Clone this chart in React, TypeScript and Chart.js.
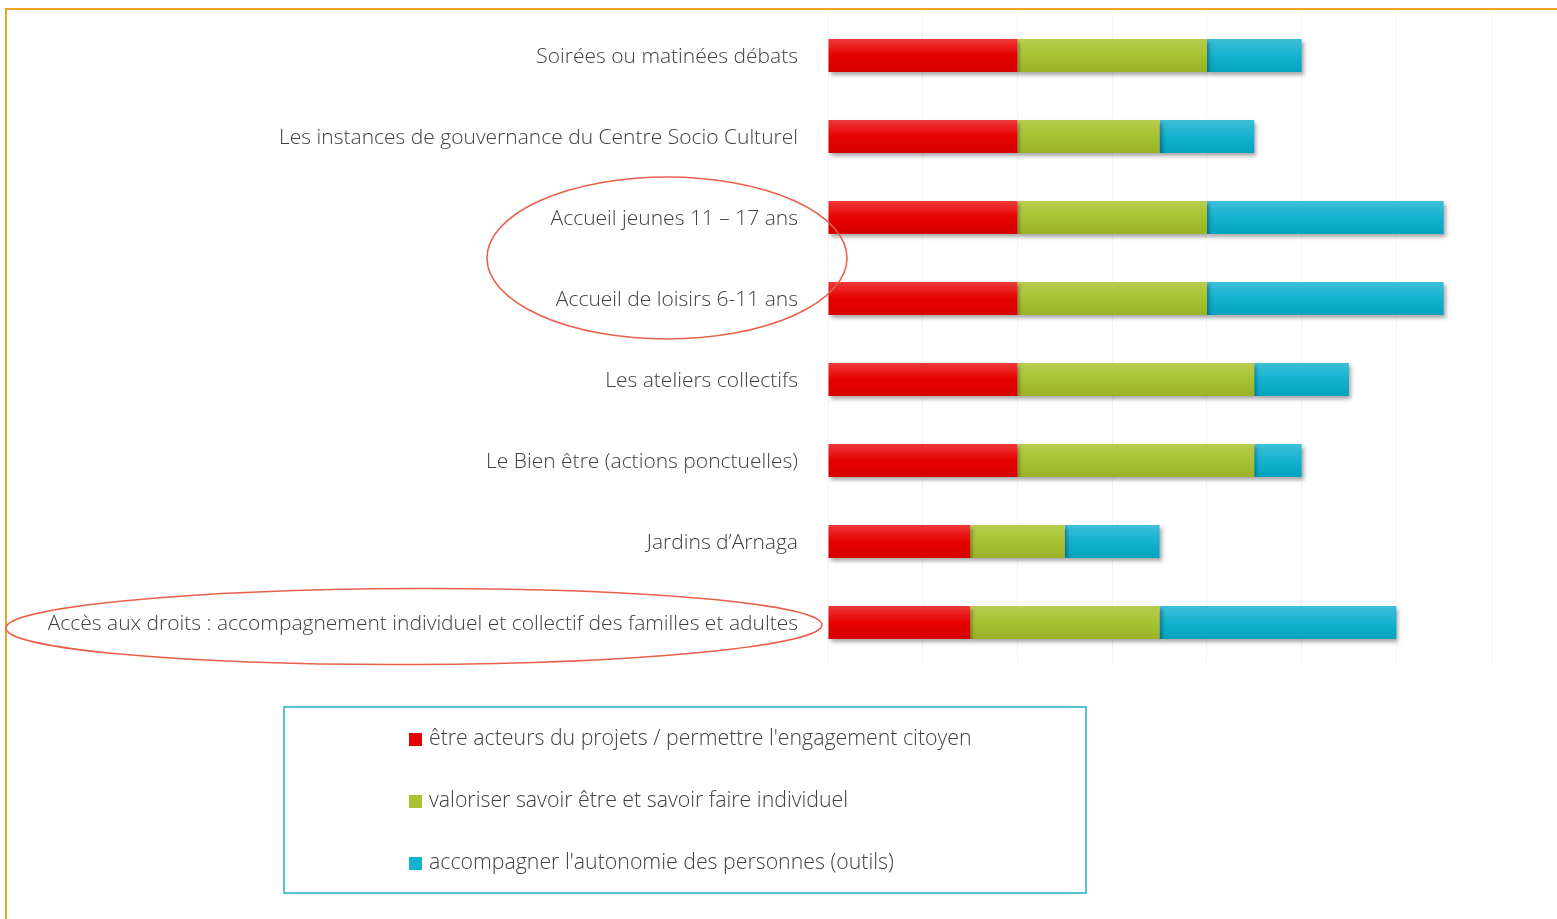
import React, { useEffect, useRef } from "react";
import { Chart, registerables } from "chart.js";

Chart.register(...registerables);

const categories = [
  "Soirées ou matinées débats",
  "Les instances de gouvernance du Centre Socio Culturel",
  "Accueil jeunes 11 – 17 ans",
  "Accueil de loisirs 6-11 ans",
  "Les ateliers collectifs",
  "Le Bien être (actions ponctuelles)",
  "Jardins d’Arnaga",
  "Accès aux droits : accompagnement individuel et collectif des familles et adultes",
];

const seriesNames = [
  "être acteurs du projets / permettre l'engagement citoyen",
  "valoriser savoir être et savoir faire individuel",
  "accompagner l'autonomie des personnes (outils)",
];

const acteurs = [4, 4, 4, 4, 4, 4, 3, 3];
const valoriser = [4, 3, 4, 4, 5, 5, 2, 4];
const autonomie = [2, 2, 5, 5, 2, 1, 2, 5];

const baseColors = ["#e60000", "#a8c232", "#12b2d0"];
const gradStops = [
  ["#ee3a3a", "#e60000", "#d60000"],
  ["#b8ce50", "#a8c232", "#9ab126"],
  ["#40bfd8", "#12b2d0", "#03a2bf"],
];

const FONT = "'Open Sans', 'DejaVu Sans', sans-serif";

function gradFor(i: number) {
  return (ctx: any) => {
    const chart = ctx.chart;
    const y = chart.scales && chart.scales.y;
    if (!y || ctx.dataIndex === undefined) return baseColors[i];
    const c = y.getPixelForValue(ctx.dataIndex);
    if (!isFinite(c)) return baseColors[i];
    const g = chart.ctx.createLinearGradient(0, c - 17, 0, c + 17);
    g.addColorStop(0, gradStops[i][0]);
    g.addColorStop(0.5, gradStops[i][1]);
    g.addColorStop(1, gradStops[i][2]);
    return g;
  };
}

const shadowPlugin = {
  id: "barShadow",
  beforeDatasetsDraw(chart: any) {
    const ctx = chart.ctx;
    ctx.save();
    ctx.shadowColor = "rgba(0,0,0,0.35)";
    ctx.shadowBlur = 4;
    ctx.shadowOffsetX = 2;
    ctx.shadowOffsetY = 3;
  },
  afterDatasetsDraw(chart: any) {
    chart.ctx.restore();
  },
};

const decorPlugin = {
  id: "decor",
  beforeDraw(chart: any) {
    const ctx = chart.ctx;
    ctx.save();
    ctx.fillStyle = "#ffffff";
    ctx.fillRect(0, 0, chart.width, chart.height);
    ctx.restore();
  },
  afterDraw(chart: any) {
    const ctx = chart.ctx;
    const y = chart.scales.y;
    const left = chart.chartArea.left;
    ctx.save();
    ctx.strokeStyle = "#f4a023";
    ctx.lineWidth = 2;
    ctx.beginPath();
    ctx.moveTo(6, chart.height);
    ctx.lineTo(6, 9);
    ctx.lineTo(chart.width, 9);
    ctx.stroke();

    ctx.strokeStyle = "#e8604a";
    ctx.lineWidth = 1.6;
    const cy1 = (y.getPixelForValue(2) + y.getPixelForValue(3)) / 2;
    ctx.beginPath();
    ctx.ellipse(left - 161, cy1, 180, 81, 0, 0, Math.PI * 2);
    ctx.stroke();
    const cy2 = y.getPixelForValue(7) + 4;
    ctx.beginPath();
    ctx.ellipse(left - 414, cy2, 408, 38, -0.004, 0, Math.PI * 2);
    ctx.stroke();

    ctx.strokeStyle = "#2bb5cf";
    ctx.lineWidth = 1.6;
    ctx.strokeRect(284, 707, 802, 186);
    ctx.font = `300 21.3px ${FONT}`;
    ctx.textBaseline = "middle";
    ctx.textAlign = "left";
    chart.data.datasets.forEach((ds: any, i: number) => {
      const ry = 739 + i * 62;
      ctx.fillStyle = baseColors[i];
      ctx.fillRect(409, ry - 6, 13, 13);
      ctx.fillStyle = "#404040";
      ctx.fillText(ds.label, 429, ry);
    });
    ctx.restore();
  },
};

export default function App() {
  const ref = useRef<HTMLCanvasElement>(null);
  useEffect(() => {
    if (!ref.current) return;
    const data = [acteurs, valoriser, autonomie];
    const chart = new Chart(ref.current, {
      type: "bar",
      data: {
        labels: categories,
        datasets: seriesNames.map((name, i) => ({
          label: name,
          data: data[i],
          backgroundColor: gradFor(i),
          borderWidth: 0,
          barPercentage: 0.41,
          categoryPercentage: 1,
        })),
      },
      options: {
        indexAxis: "y",
        responsive: false,
        animation: false,
        layout: { padding: { left: 8, top: 15, bottom: 256, right: 66 } },
        plugins: { legend: { display: false }, tooltip: { enabled: false } },
        scales: {
          x: {
            stacked: true,
            min: 0,
            max: 14,
            ticks: { display: false, stepSize: 2 },
            grid: { color: "#f3f3f3", drawTicks: false },
            border: { display: false },
            afterFit: (s: any) => {
              s.height = 0;
              s.paddingLeft = 0;
              s.paddingRight = 0;
            },
          },
          y: {
            stacked: true,
            grid: { display: false },
            border: { display: false },
            ticks: {
              color: "#404040",
              padding: 22,
              labelOffset: 2,
              font: { family: FONT, size: 21, weight: "300" as any },
            },
            afterFit: (s: any) => {
              s.width = 820;
              s.paddingTop = 0;
              s.paddingBottom = 0;
            },
          },
        },
      },
      plugins: [decorPlugin, shadowPlugin],
    });
    return () => chart.destroy();
  }, []);
  return (
    <div style={{ position: "absolute", left: 0, top: 0, width: 1557, height: 919 }}>
      <canvas ref={ref} width={1557} height={919} style={{ width: 1557, height: 919, display: "block" }} />
    </div>
  );
}
